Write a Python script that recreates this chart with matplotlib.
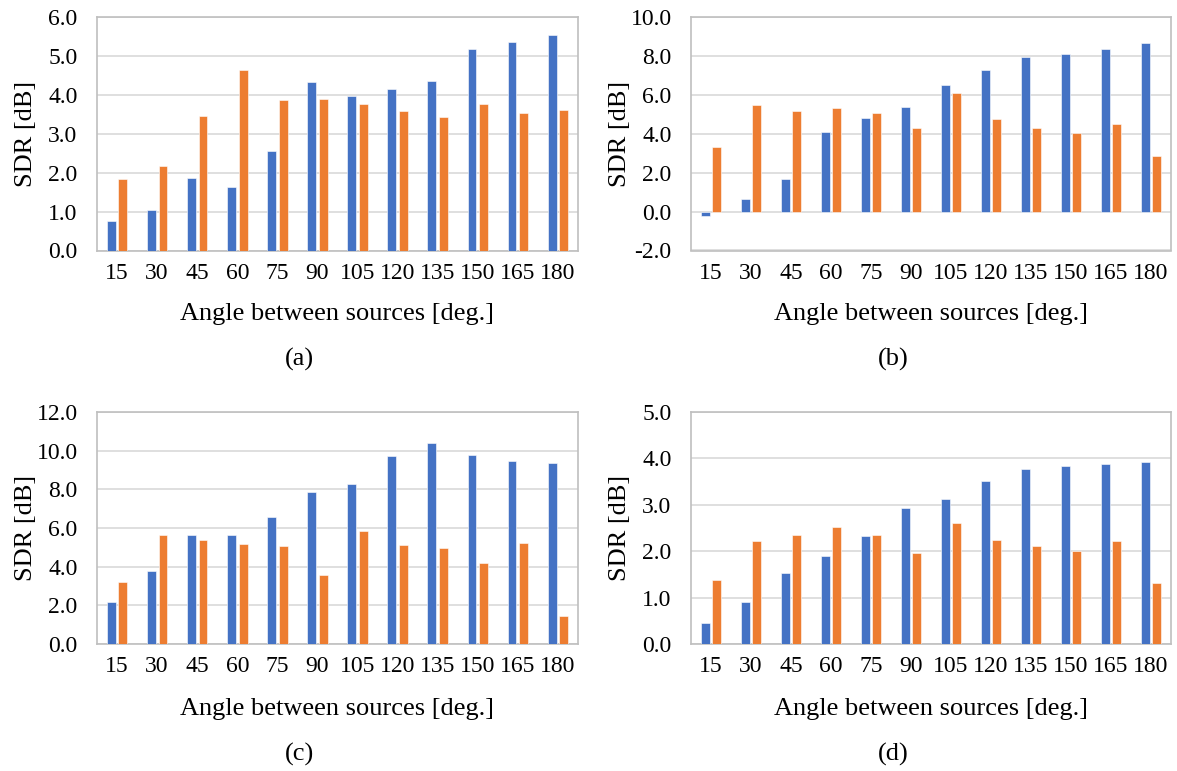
import numpy as np
import matplotlib
matplotlib.use("Agg")
import matplotlib.pyplot as plt

# Angles between the two sources (x categories)
angles = ["15", "30", "45", "60", "75", "90", "105", "120", "135", "150", "165", "180"]

# SDR [dB] per panel: first (blue) and second (orange) series
a_blue = [0.77, 1.05, 1.87, 1.62, 2.55, 4.32, 3.96, 4.15, 4.35, 5.18, 5.35, 5.55]
a_orange = [1.85, 2.16, 3.46, 4.65, 3.86, 3.90, 3.76, 3.59, 3.42, 3.77, 3.54, 3.62]

b_blue = [-0.22, 0.64, 1.65, 4.09, 4.81, 5.38, 6.49, 7.30, 7.94, 8.09, 8.37, 8.64]
b_orange = [3.32, 5.48, 5.19, 5.33, 5.09, 4.28, 6.07, 4.76, 4.30, 4.05, 4.50, 2.84]

c_blue = [2.17, 3.78, 5.62, 5.64, 6.58, 7.84, 8.26, 9.71, 10.38, 9.76, 9.45, 9.38]
c_orange = [3.20, 5.62, 5.40, 5.17, 5.09, 3.57, 5.84, 5.12, 4.98, 4.19, 5.22, 1.46]

d_blue = [0.45, 0.91, 1.53, 1.90, 2.32, 2.93, 3.12, 3.52, 3.78, 3.84, 3.87, 3.93]
d_orange = [1.39, 2.21, 2.34, 2.52, 2.34, 1.96, 2.61, 2.24, 2.11, 2.01, 2.21, 1.32]

# y-axis ticks per panel
a_yticks = [0.0, 1.0, 2.0, 3.0, 4.0, 5.0, 6.0]
b_yticks = [-2.0, 0.0, 2.0, 4.0, 6.0, 8.0, 10.0]
c_yticks = [0.0, 2.0, 4.0, 6.0, 8.0, 10.0, 12.0]
d_yticks = [0.0, 1.0, 2.0, 3.0, 4.0, 5.0]

captions = ["(a)", "(b)", "(c)", "(d)"]

BLUE = "#4472C4"
ORANGE = "#ED7D31"
GRID = "#D9D9D9"
FRAME = "#BFBFBF"

W, H = 1177, 771
plt.rcParams["font.family"] = ["Liberation Serif", "DejaVu Serif"]
plt.rcParams["font.size"] = 16

TICK_FS = 17
LABEL_FS = 19

fig = plt.figure(figsize=(W / 100, H / 100), dpi=100)


def px_axes(x0, y0, x1, y1):
    return fig.add_axes([x0 / W, 1 - y1 / H, (x1 - x0) / W, (y1 - y0) / H])


def fig_text(x, y, s, **kw):
    fig.text(x / W, 1 - y / H, s, ha="center", va="center", **kw)


panels = [
    (a_blue, a_orange, a_yticks, (97, 17, 578, 250.5)),
    (b_blue, b_orange, b_yticks, (691, 17, 1171, 250.5)),
    (c_blue, c_orange, c_yticks, (97, 412, 578, 644)),
    (d_blue, d_orange, d_yticks, (691, 412, 1171, 644)),
]

x = np.arange(len(angles))
bw = 0.22
off = 0.145

for i, (blue, orange, yt, box) in enumerate(panels):
    ax = px_axes(*box)
    ax.bar(x - off, blue, width=bw, color=BLUE, edgecolor="white", linewidth=0.4, zorder=3)
    ax.bar(x + off, orange, width=bw, color=ORANGE, edgecolor="white", linewidth=0.4, zorder=3)
    ax.set_xlim(-0.5, len(angles) - 0.5)
    ax.set_ylim(yt[0], yt[-1])
    ax.set_yticks(yt)
    ax.set_yticklabels([f"{v:.1f}" for v in yt])
    ax.set_xticks(x)
    ax.set_xticklabels(angles)
    ax.tick_params(axis="both", length=0, labelsize=TICK_FS, colors="black")
    ax.tick_params(axis="y", pad=14)
    ax.tick_params(axis="x", pad=9)
    ax.yaxis.grid(True, color=GRID, linewidth=1.2, zorder=0)
    ax.set_axisbelow(True)
    for sp in ax.spines.values():
        sp.set_color(FRAME)
        sp.set_linewidth(1.2)

    col = i % 2
    row = i // 2
    dx = 0 if col == 0 else 594
    dy = 0 if row == 0 else 395
    x0, y0, x1, y1 = box
    fig_text(26 + dx, (y0 + y1) / 2, "SDR [dB]", rotation=90, fontsize=LABEL_FS)
    fig_text((x0 + x1) / 2, 314 + dy, "Angle between sources [deg.]", fontsize=LABEL_FS)
    fig_text(299 + dx, 359 + dy, captions[i], fontsize=LABEL_FS)

fig.savefig("out.png", dpi=100, facecolor="white")
